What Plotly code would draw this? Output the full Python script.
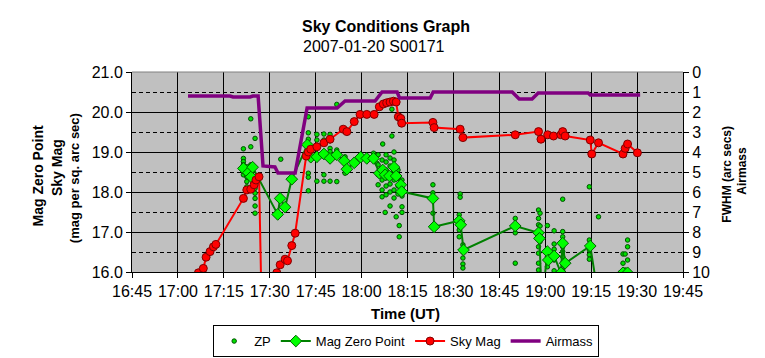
import plotly.graph_objects as go

DATE = "2007-01-20"

# ---- data ----
x_tick_labels = ["16:45", "17:00", "17:15", "17:30", "17:45", "18:00", "18:15",
                 "18:30", "18:45", "19:00", "19:15", "19:30", "19:45"]

airmass_time = ["17:03:18", "17:17:00", "17:18:00", "17:23:36", "17:24:30", "17:26:12",
                "17:27:48", "17:31:42", "17:32:42", "17:38:18", "17:42:12", "17:52:00",
                "17:54:36", "18:04:24", "18:06:42", "18:11:36", "18:12:24", "18:22:24",
                "18:23:24", "18:49:12", "18:51:30", "18:55:42", "18:57:42", "19:14:00",
                "19:14:42", "19:31:00"]
airmass_val = [1.2, 1.2, 1.25, 1.25, 1.2, 1.2,
               4.7, 4.75, 5.05, 5.05, 1.8, 1.8,
               1.45, 1.45, 1.0, 1.0, 1.3, 1.3,
               1.0, 1.0, 1.35, 1.35, 1.05, 1.05,
               1.15, 1.15]

sky_time = ["17:06:42", "17:08:18", "17:09:12", "17:10:30", "17:11:36", "17:12:24",
            "17:21:24", "17:22:30", "17:23:48", "17:24:54", "17:25:30", "17:26:30",
            "17:27:54", "17:32:18", "17:33:24", "17:35:00", "17:35:48", "17:37:12",
            "17:38:18", "17:41:54", "17:42:36", "17:43:24", "17:45:24", "17:47:42",
            "17:49:42", "17:54:00", "17:55:12", "17:57:36", "17:59:30", "18:01:42",
            "18:04:06", "18:05:48", "18:07:06", "18:08:12", "18:09:18", "18:10:24",
            "18:11:18", "18:12:00", "18:12:48", "18:13:06", "18:23:18", "18:23:42",
            "18:32:12", "18:33:06", "18:50:12", "18:57:48", "18:58:36", "19:00:48",
            "19:02:42", "19:05:06", "19:05:42", "19:06:30", "19:14:42", "19:15:12",
            "19:17:24", "19:25:24", "19:26:06", "19:26:54", "19:30:06"]
sky_mag = [15.98, 16.09, 16.37, 16.51, 16.63, 16.69,
           17.84, 18.05, 18.07, 18.18, 18.30, 18.38,
           13.0, 15.98, 16.18, 16.32, 16.28, 16.66,
           16.97, 18.90, 19.00, 19.07, 19.13, 19.23,
           19.32, 19.57, 19.51, 19.76, 19.94, 19.94,
           19.94, 20.13, 20.20, 20.23, 20.25, 20.27,
           20.25, 19.88, 19.84, 19.72, 19.74, 19.61,
           19.57, 19.36, 19.43, 19.51, 19.32, 19.43,
           19.40, 19.43, 19.51, 19.40, 19.30, 18.95,
           19.23, 18.95, 19.09, 19.20, 18.98]

mzp_time = ["17:21:24", "17:23:00", "17:23:54", "17:24:24", "17:32:36", "17:33:24",
            "17:35:00", "17:37:12", "17:42:18", "17:43:24", "17:45:24", "17:47:42",
            "17:49:42", "17:51:54", "17:54:18", "17:55:12", "17:57:36", "17:59:42",
            "18:01:42", "18:03:54", "18:05:48", "18:06:54", "18:07:42", "18:09:06",
            "18:10:36", "18:11:18", "18:12:48", "18:13:06", "18:23:18", "18:23:42",
            "18:31:54", "18:32:24", "18:33:18", "18:50:12", "18:57:48", "18:58:06",
            "18:58:54", "19:00:42", "19:01:00", "19:02:54", "19:05:06", "19:05:42",
            "19:06:30", "19:14:42", "19:17:30", "19:21:00", "19:25:24", "19:26:54"]
mzp_mag = [18.59, 18.48, 18.38, 18.62, 17.44, 17.84,
           17.62, 18.32, 19.18, 18.87, 18.88, 18.95,
           18.84, 18.93, 18.78, 18.57, 18.73, 18.87,
           18.84, 18.84, 18.47, 18.55, 18.43, 18.40,
           18.62, 18.40, 18.18, 18.01, 17.84, 17.13,
           17.28, 17.18, 16.55, 17.15, 16.98, 16.84,
           15.2, 16.51, 16.30, 16.40, 15.98, 16.72,
           16.22, 16.65, 15.3, 15.6, 15.98, 15.98]

zp_time = (["17:21:24"] * 6 + ["17:22:30"] * 5 + ["17:23:48"] * 4 + ["17:25:12"] * 7 +
           ["17:33:36"] + ["17:42:36"] * 6 + ["17:45:24"] * 3 + ["17:47:42"] * 4 +
           ["17:49:42"] * 5 + ["17:51:54"] * 4 + ["17:54:36"] * 4 + ["18:03:54"] +
           ["18:05:00"] + ["18:05:24"] * 4 + ["18:06:42"] * 5 + ["18:06:54"] +
           ["18:07:42"] + ["18:08:00"] * 6 + ["18:09:18"] * 6 + ["18:09:54"] * 2 +
           ["18:10:36"] * 6 + ["18:11:18"] + ["18:11:54"] * 4 + ["18:12:18"] * 2 +
           ["18:13:12"] * 5 + ["18:23:18"] * 3 + ["18:31:54"] * 4 + ["18:32:12"] * 2 +
           ["18:33:06"] * 5 + ["18:50:12"] * 3 + ["18:57:48"] * 7 + ["18:58:18"] * 3 +
           ["19:00:42"] * 4 + ["19:02:54"] * 6 + ["19:05:42"] * 9 + ["19:14:24"] * 6 +
           ["19:17:24"] + ["19:24:30"] + ["19:25:24"] * 2 + ["19:26:06"] * 2 +
           ["19:26:54"] * 3)
zp_mag = [19.08, 18.84, 18.76, 18.68, 18.55, 18.43,
          18.63, 18.51, 18.38, 18.26, 18.13,
          19.83, 19.13, 18.68, 18.55,
          19.34, 18.22, 18.09, 17.97, 17.84, 17.65, 17.47,
          18.82,
          19.88, 19.48, 19.32, 18.47, 18.37, 18.03,
          19.44, 19.30, 18.27,
          19.45, 19.30, 18.43, 18.27,
          19.44, 19.28, 19.09, 19.01, 18.27,
          20.19, 19.05, 18.97, 18.26,
          18.88, 18.72, 18.59, 18.47,
          18.97,
          18.72,
          18.93, 18.68, 18.43, 18.18,
          18.80, 18.55, 18.30, 18.05, 17.88,
          19.20,
          17.49,
          18.93, 18.75, 18.55, 18.35, 18.15, 17.93,
          18.85, 18.65, 18.43, 18.20, 18.00, 17.65,
          20.07, 19.40,
          19.00, 18.80, 18.55, 18.30, 18.05, 17.85,
          17.38,
          18.55, 18.35, 18.15, 17.95,
          17.16, 16.88,
          18.30, 18.10, 17.90, 17.63, 17.49,
          18.18, 17.98, 17.47,
          17.43, 17.25, 17.05, 16.88,
          17.95, 17.87,
          16.68, 16.50, 16.35, 16.20, 16.10,
          17.34, 16.98, 16.22,
          17.55, 17.34, 17.18, 16.63, 16.47, 16.22, 16.05,
          17.47, 17.15, 16.76,
          17.16, 16.48, 16.38, 16.13,
          17.03, 16.70, 16.57, 16.43, 16.30, 16.03,
          17.82, 17.01, 16.88, 16.76, 16.63, 16.51, 16.38, 16.22, 16.05,
          18.13, 16.80, 16.63, 16.55, 16.43, 16.32,
          17.38,
          15.98,
          16.45, 16.22,
          16.45, 16.05,
          16.80, 16.63, 16.30]


def ts(times):
    return [f"{DATE} {t}" for t in times]


FONT = "Arial, 'Liberation Sans', sans-serif"

fig = go.Figure()

fig.add_trace(go.Scatter(
    x=ts(zp_time), y=zp_mag, mode="markers", name="ZP",
    marker=dict(symbol="circle", size=4.5, color="#00e000",
                line=dict(color="#005000", width=1)),
))
fig.add_trace(go.Scatter(
    x=ts(mzp_time), y=mzp_mag, mode="lines+markers", name="Mag Zero Point",
    line=dict(color="#008000", width=2),
    marker=dict(symbol="diamond", size=9, color="#00ff00",
                line=dict(color="#006000", width=1)),
))
fig.add_trace(go.Scatter(
    x=ts(sky_time), y=sky_mag, mode="lines+markers", name="Sky Mag",
    line=dict(color="#ff0000", width=2),
    marker=dict(symbol="circle", size=8, color="#ff0000",
                line=dict(color="#800000", width=1)),
))
fig.add_trace(go.Scatter(
    x=ts(airmass_time), y=airmass_val, mode="lines", name="Airmass",
    yaxis="y2", line=dict(color="#800080", width=3.5),
))

tickvals = ts(x_tick_labels)

# The page body has an 8px default margin, so the figure is sized/placed to compensate.
fig.update_layout(
    width=757, height=350,
    margin=dict(l=124, r=82, t=64, b=86, autoexpand=False),
    paper_bgcolor="white", plot_bgcolor="#c0c0c0",
    font=dict(family=FONT, size=16, color="black"),
    showlegend=True,
    legend=dict(orientation="h", xref="container", yref="container",
                x=0.526, xanchor="center", y=0.094, yanchor="top",
                bordercolor="black", borderwidth=1, bgcolor="white",
                font=dict(size=13, family=FONT), itemwidth=30, tracegroupgap=0),
    xaxis=dict(
        type="date",
        range=[f"{DATE} 16:45", f"{DATE} 19:45"],
        tickvals=tickvals, ticktext=x_tick_labels,
        showgrid=True, gridcolor="black", gridwidth=1,
        ticks="outside", ticklen=5, tickcolor="black",
        showline=True, linecolor="black", linewidth=1, mirror=False,
        zeroline=False, tickfont=dict(size=16),
    ),
    yaxis=dict(
        range=[16, 21], dtick=1, tickformat=".1f",
        showgrid=True, gridcolor="black", gridwidth=1,
        minor=dict(dtick=0.5, showgrid=True, gridcolor="black", griddash="4px,3px",
                   gridwidth=1, ticks=""),
        ticks="outside", ticklen=5, tickcolor="black",
        showline=True, linecolor="black", linewidth=1,
        zeroline=False, tickfont=dict(size=16),
    ),
    yaxis2=dict(
        range=[10, 0], dtick=1, overlaying="y", side="right",
        showgrid=False, zeroline=False,
        ticks="outside", ticklen=5, tickcolor="black",
        showline=True, linecolor="black", linewidth=1,
        tickfont=dict(size=16),
    ),
)

# gray frame along the top of the plot area
fig.add_shape(type="line", xref="paper", yref="paper", x0=0, x1=1, y0=1, y1=1,
              line=dict(color="#808080", width=1))

ann = [
    dict(text="<b>Sky Conditions Graph</b>", x=0.305, y=1.23, xanchor="left",
         yanchor="middle", font=dict(size=16)),
    dict(text="2007-01-20 S00171", x=0.3067, y=1.13, xanchor="left",
         yanchor="middle", font=dict(size=16)),
    dict(text="<b>Time (UT)</b>", x=0.4955, y=-0.205, xanchor="center",
         yanchor="middle", font=dict(size=15)),
    dict(text="<b>Mag Zero Point</b>", x=-0.1715, y=0.48, textangle=-90,
         xanchor="center", yanchor="middle", font=dict(size=14)),
    dict(text="<b>Sky Mag</b>", x=-0.136, y=0.52, textangle=-90,
         xanchor="center", yanchor="middle", font=dict(size=14)),
    dict(text="<b>(mag per sq. arc sec)</b>", x=-0.105, y=0.47, textangle=-90,
         xanchor="center", yanchor="middle", font=dict(size=13)),
    dict(text="<b>FWHM (arc secs)</b>", x=1.0793, y=0.49, textangle=-90,
         xanchor="center", yanchor="middle", font=dict(size=12)),
    dict(text="<b>Airmass</b>", x=1.1065, y=0.505, textangle=-90,
         xanchor="center", yanchor="middle", font=dict(size=12)),
]
for a in ann:
    fig.add_annotation(xref="paper", yref="paper", showarrow=False,
                       font_family=FONT, **{k: v for k, v in a.items()})

fig.write_html("out.html")
